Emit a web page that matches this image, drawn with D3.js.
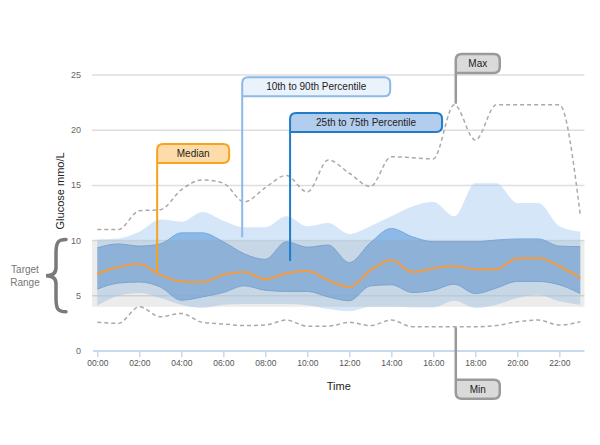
<!DOCTYPE html>
<html>
<head>
<meta charset="utf-8">
<style>
html, body { margin: 0; padding: 0; background: #fff; }
svg { display: block; font-family: "Liberation Sans", Arial, sans-serif; }
</style>
<script src="https://cdn.jsdelivr.net/npm/d3@7/dist/d3.min.js"></script>
</head>
<body>
<div id="wrapper"></div>
<script>
// hourly readings, 00:00 .. 23:00
var hours = d3.range(0, 24);
var maxValues = [11.0, 11.0, 12.7, 12.8, 14.6, 15.5, 15.2, 13.5, 14.8, 15.9, 14.4, 17.3, 16.1, 14.9, 17.6, 17.5, 17.4, 22.3, 19.1, 22.3, 22.3, 22.3, 22.3, 12.3];
var p90Values = [10.1, 10.2, 10.8, 11.9, 11.7, 12.6, 11.8, 11.2, 11.2, 12.2, 11.3, 11.6, 10.6, 11.3, 12.2, 13.1, 13.5, 12.2, 15.2, 15.2, 13.4, 13.4, 11.3, 10.8];
var p75Values = [9.35, 9.7, 9.5, 9.7, 10.7, 10.7, 9.9, 8.8, 8.3, 9.9, 9.4, 9.6, 8.0, 9.8, 11.1, 10.35, 9.9, 9.9, 9.9, 10.05, 10.15, 10.15, 9.5, 9.45];
var medianValues = [7.0, 7.6, 7.9, 6.9, 6.3, 6.25, 6.9, 7.15, 6.5, 7.05, 7.25, 6.4, 5.8, 7.3, 8.25, 7.15, 7.5, 7.7, 7.4, 7.4, 8.4, 8.4, 7.7, 6.6];
var p25Values = [5.6, 6.15, 6.25, 5.8, 4.6, 4.9, 5.3, 5.9, 5.5, 5.4, 5.4, 4.9, 4.55, 5.9, 6.0, 5.3, 5.5, 6.05, 5.2, 5.7, 6.3, 6.3, 6.0, 5.2];
var p10Values = [4.1, 5.0, 5.25, 4.8, 4.2, 3.9, 4.2, 4.25, 4.25, 4.25, 4.15, 3.8, 3.6, 4.0, 4.0, 3.95, 3.95, 4.55, 3.9, 4.2, 4.8, 5.1, 4.5, 4.2];
var minValues = [2.6, 2.5, 4.0, 3.1, 3.4, 2.6, 2.45, 2.3, 2.35, 2.8, 2.25, 2.25, 2.6, 2.3, 2.8, 2.2, 2.2, 2.2, 2.2, 2.3, 2.65, 2.8, 2.35, 2.65];

var targetRange = [4, 10];
var yTicks = [0, 5, 10, 15, 20, 25];
var xTicks = [0, 2, 4, 6, 8, 10, 12, 14, 16, 18, 20, 22];
var xTickLabels = ["00:00", "02:00", "04:00", "06:00", "08:00", "10:00", "12:00", "14:00", "16:00", "18:00", "20:00", "22:00"];

// callouts: hour of the stem, value where stem ends, value of box top
var calloutLabels = ["Median", "10th to 90th Percentile", "25th to 75th Percentile", "Max", "Min"];
var calloutHours = [2.85, 6.9, 9.18, 17.07, 17.07];
var calloutTips = [7.15, 10.3, 8.15, 22.4, 2.15];
var calloutTops = [18.75, 24.8, 21.55, 26.9, -2.6];

var w = 600, h = 445;

var svg = d3.select("#wrapper").append("svg")
  .attr("width", w)
  .attr("height", h);

var x = d3.scaleLinear().domain([0, 23]).range([97.3, 580.3]);
var y = d3.scaleLinear().domain([0, 25]).range([351, 75]);

var rows = hours.map(function(hr, i) {
  return {
    h: hr, max: maxValues[i], p90: p90Values[i], p75: p75Values[i],
    med: medianValues[i], p25: p25Values[i], p10: p10Values[i], min: minValues[i]
  };
});

// grid
svg.append("g").selectAll("line")
  .data(yTicks.filter(function(d) { return d > 0; }))
  .enter().append("line")
    .attr("x1", x(-0.25)).attr("x2", x(23.2))
    .attr("y1", function(d) { return y(d); })
    .attr("y2", function(d) { return y(d); })
    .style("stroke", "#dedede")
    .style("stroke-width", 1.5);

// y labels
svg.append("g").selectAll("text")
  .data(yTicks)
  .enter().append("text")
    .attr("x", 81)
    .attr("y", function(d) { return y(d) + 3; })
    .attr("text-anchor", "end")
    .style("font-size", "9px")
    .style("fill", "#666")
    .text(function(d) { return d; });

var curve = d3.curveMonotoneX;

var area90 = d3.area().curve(curve)
  .x(function(d) { return x(d.h); })
  .y0(function(d) { return y(d.p10); })
  .y1(function(d) { return y(d.p90); });

var area75 = d3.area().curve(curve)
  .x(function(d) { return x(d.h); })
  .y0(function(d) { return y(d.p25); })
  .y1(function(d) { return y(d.p75); });

svg.append("path").datum(rows)
  .attr("d", area90)
  .style("fill", "#a9cdf2")
  .style("fill-opacity", 0.5);

svg.append("path").datum(rows)
  .attr("d", area75)
  .style("fill", "#75a9e0")
  .style("fill-opacity", 0.75);

var edge = function(key) {
  return d3.line().curve(curve)
    .x(function(d) { return x(d.h); })
    .y(function(d) { return y(d[key]); });
};

["p75", "p25"].forEach(function(k) {
  svg.append("path").datum(rows)
    .attr("d", edge(k))
    .style("fill", "none")
    .style("stroke", "#78a8dd")
    .style("stroke-width", 1);
});

// target range band
svg.append("rect")
  .attr("x", x(-0.25))
  .attr("width", x(23.2) - x(-0.25))
  .attr("y", y(targetRange[1]))
  .attr("height", y(targetRange[0]) - y(targetRange[1]))
  .style("fill", "#8c8c8c")
  .style("fill-opacity", 0.17);

// min / max
["max", "min"].forEach(function(k) {
  svg.append("path").datum(rows)
    .attr("d", edge(k))
    .style("fill", "none")
    .style("stroke", "#aaa")
    .style("stroke-width", 1.5)
    .style("stroke-dasharray", "4,3");
});

// median
svg.append("path").datum(rows)
  .attr("d", edge("med"))
  .style("fill", "none")
  .style("stroke", "#f59a3c")
  .style("stroke-width", 2);

// x axis
svg.append("line")
  .attr("x1", x(-0.2)).attr("x2", x(23.2))
  .attr("y1", y(0)).attr("y2", y(0))
  .style("stroke", "#c9d9ee")
  .style("stroke-width", 2);

var xAxis = d3.axisBottom(x)
  .tickValues(xTicks)
  .tickSize(5)
  .tickPadding(3)
  .tickFormat(function(d, i) { return xTickLabels[i]; });

var gx = svg.append("g")
  .attr("transform", "translate(0," + (y(0) + 1) + ")")
  .call(xAxis);
gx.select(".domain").remove();
gx.selectAll("line").style("stroke", "#c9d9ee").style("stroke-width", 1.5);
gx.selectAll("text")
  .style("font-family", "'Liberation Sans', Arial, sans-serif")
  .style("font-size", "8.5px")
  .style("fill", "#555");

// axis titles
svg.append("text")
  .attr("x", (x(-0.2) + x(23.2)) / 2)
  .attr("y", 390)
  .attr("text-anchor", "middle")
  .style("font-size", "11px")
  .style("fill", "#222")
  .text("Time");

svg.append("text")
  .attr("transform", "translate(64," + y(14.5) + ") rotate(-90)")
  .attr("text-anchor", "middle")
  .style("font-size", "11px")
  .style("fill", "#222")
  .text("Glucose mmo/L");

// target range brace
var bTop = y(targetRange[1]) - 1, bBot = y(targetRange[0]) + 5, bMid = (bTop + bBot) / 2;
svg.append("path")
  .attr("d", "M66," + bTop +
    " C57," + bTop + " 56," + (bTop + 4) + " 56," + (bTop + 14) +
    " L56," + (bMid - 8) +
    " C56," + (bMid - 2) + " 52," + bMid + " 46," + bMid +
    " C52," + bMid + " 56," + (bMid + 2) + " 56," + (bMid + 8) +
    " L56," + (bBot - 14) +
    " C56," + (bBot - 4) + " 57," + bBot + " 66," + bBot)
  .style("fill", "none")
  .style("stroke", "#7a7a7a")
  .style("stroke-width", 3.5)
  .style("stroke-linecap", "round");

svg.append("text")
  .attr("x", 25).attr("y", bMid - 3)
  .attr("text-anchor", "middle")
  .style("font-size", "10px")
  .style("fill", "#777")
  .text("Target");
svg.append("text")
  .attr("x", 25).attr("y", bMid + 10)
  .attr("text-anchor", "middle")
  .style("font-size", "10px")
  .style("fill", "#777")
  .text("Range");

// callouts
var calloutStroke = ["#f6a31e", "#8cb9ea", "#1f7cc7", "#9a9a9a", "#9a9a9a"];
var calloutFill = ["#fddcaa", "#eaf2fc", "#b2cdee", "#dadada", "#dadada"];
var calloutWidth = [72, 148, 152, 44, 44];
var bh = 19, r = 6;

var flagPath = function(i) {
  var x0 = x(calloutHours[i]);
  var top = y(calloutTops[i]);
  var tip = y(calloutTips[i]);
  var bw = calloutWidth[i];
  if (tip > top) {
    // stem hangs below the box
    return "M" + x0 + "," + tip + " L" + x0 + "," + (top + r) +
      " Q" + x0 + "," + top + " " + (x0 + r) + "," + top +
      " L" + (x0 + bw - r) + "," + top +
      " Q" + (x0 + bw) + "," + top + " " + (x0 + bw) + "," + (top + r) +
      " L" + (x0 + bw) + "," + (top + bh - r) +
      " Q" + (x0 + bw) + "," + (top + bh) + " " + (x0 + bw - r) + "," + (top + bh) +
      " L" + x0 + "," + (top + bh);
  }
  // stem rises above the box
  return "M" + x0 + "," + tip + " L" + x0 + "," + (top + bh - r) +
    " Q" + x0 + "," + (top + bh) + " " + (x0 + r) + "," + (top + bh) +
    " L" + (x0 + bw - r) + "," + (top + bh) +
    " Q" + (x0 + bw) + "," + (top + bh) + " " + (x0 + bw) + "," + (top + bh - r) +
    " L" + (x0 + bw) + "," + (top + r) +
    " Q" + (x0 + bw) + "," + top + " " + (x0 + bw - r) + "," + top +
    " L" + x0 + "," + top;
};

var callouts = svg.append("g").selectAll("g")
  .data(calloutLabels)
  .enter().append("g");

callouts.append("path")
  .attr("d", function(d, i) { return flagPath(i); })
  .style("fill", function(d, i) { return calloutFill[i]; })
  .style("stroke", function(d, i) { return calloutStroke[i]; })
  .style("stroke-width", function(d, i) { return i >= 3 ? 2.5 : 2; });

callouts.append("text")
  .attr("x", function(d, i) { return x(calloutHours[i]) + calloutWidth[i] / 2; })
  .attr("y", function(d, i) { return y(calloutTops[i]) + 13; })
  .attr("text-anchor", "middle")
  .style("font-size", "10px")
  .style("fill", "#222")
  .text(function(d) { return d; });
</script>
</body>
</html>
